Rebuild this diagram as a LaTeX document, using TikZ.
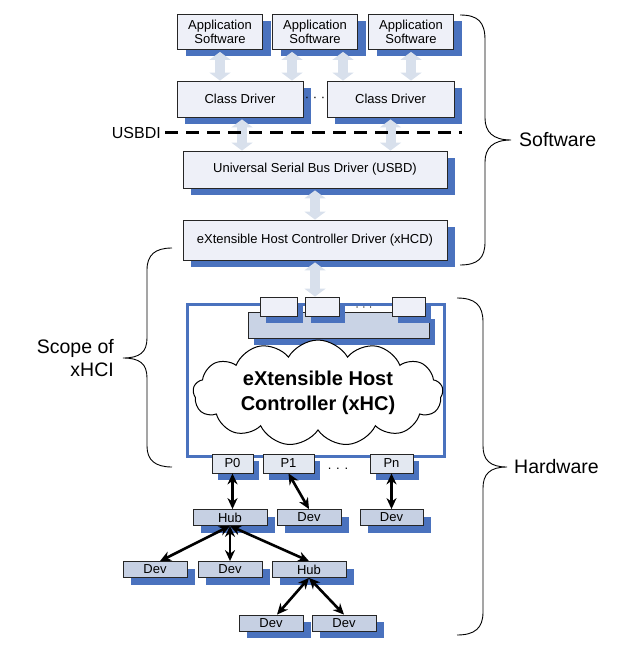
\documentclass[tikz,border=0pt]{standalone}
\usepackage{fontspec}
\setmainfont{Liberation Sans}
\usetikzlibrary{arrows.meta,shadows,shapes.symbols}
\definecolor{shblue}{HTML}{4A72BE}
\definecolor{lightfill}{HTML}{EEF0F8}
\definecolor{devfill}{HTML}{C6D0E3}
\definecolor{portfill}{HTML}{E3E8F1}
\definecolor{barfill}{HTML}{C9D3E5}
\definecolor{arrfill}{HTML}{D8E0EC}
\tikzset{
  boxbase/.style={draw=black!85, line width=0.8pt, inner sep=0pt, align=center,
    font=\fontsize{13}{14.5}\selectfont},
  bigshadow/.style={general shadow={fill=shblue, shadow xshift=8pt, shadow yshift=-7pt}},
  smallshadow/.style={general shadow={fill=shblue, shadow xshift=6pt, shadow yshift=-7pt}},
  swbox/.style={boxbase, fill=lightfill, bigshadow},
  hwbox/.style={boxbase, fill=devfill, bigshadow, minimum height=16pt},
  portbox/.style={boxbase, fill=portfill, smallshadow, minimum height=19pt},
  topbox/.style={boxbase, fill=lightfill, smallshadow, minimum height=19pt},
  blockarr/.style={draw=arrfill, line width=10pt,
    {Triangle[width=21pt,length=8pt]}-{Triangle[width=21pt,length=8pt]}},
  link/.style={draw=black, line width=2.6pt,
    {Stealth[length=11pt,width=10pt]}-{Stealth[length=11pt,width=10pt]}},
  bracepath/.style={draw=black, line width=0.9pt},
  sidelabel/.style={font=\fontsize{19.5}{23}\selectfont, inner sep=0pt},
  dotlabel/.style={font=\fontsize{13}{14}\selectfont, inner sep=0pt}
}
\begin{document}
\begin{tikzpicture}[x=1pt,y=-1pt]
\useasboundingbox (0,0) rectangle (635,652);

% ---------- software stack ----------
\node[swbox, minimum width=85pt, minimum height=35pt] (app1) at (220,32) {Application\\Software};
\node[swbox, minimum width=85pt, minimum height=35pt] (app2) at (315,32) {Application\\Software};
\node[swbox, minimum width=85pt, minimum height=35pt] (app3) at (411,32) {Application\\Software};

\node[swbox, minimum width=126pt, minimum height=36pt] (cd1) at (240,99) {Class Driver};
\node[swbox, minimum width=127pt, minimum height=36pt] (cd2) at (390.5,99) {Class Driver};
\node[dotlabel] (dots1) at (315,99) {· · ·};

\node[swbox, minimum width=264pt, minimum height=37pt] (usbd) at (315,169.5) {Universal Serial Bus Driver (USBD)};
\node[swbox, minimum width=264pt, minimum height=40pt] (xhcd) at (315,240) {eXtensible Host Controller Driver (xHCD)};

% ---------- host controller ----------
\node[draw=shblue, line width=3pt, minimum width=257pt, minimum height=152pt, inner sep=0pt] (xhc) at (315.5,380) {};
\node[boxbase, fill=barfill, smallshadow, minimum width=181pt, minimum height=26pt] (bar) at (338.5,325) {};
\node[topbox, minimum width=37pt] (sba) at (278.5,306.5) {};
\node[topbox, minimum width=34pt] (sbb) at (322,306.5) {};
\node[topbox, minimum width=33pt] (sbc) at (408.5,306.5) {};
\node[font=\fontsize{11}{12}\selectfont, inner sep=0pt] (dots2) at (364,309) {· · ·};

\node[cloud, draw=black, line width=1pt, fill=white, cloud puffs=13, cloud puff arc=120,
  aspect=2.8, minimum width=250pt, minimum height=88pt, inner sep=0pt, align=center,
  font=\bfseries\fontsize{20}{25}\selectfont] (cloud) at (318,393) {eXtensible Host\\Controller (xHC)};

\node[portbox, minimum width=41pt] (p0) at (232.5,463.5) {P0};
\node[portbox, minimum width=51pt] (p1) at (288.5,463.5) {P1};
\node[portbox, minimum width=43pt] (pn) at (391.5,463.5) {Pn};
\node[dotlabel] (dots3) at (338,469) {. . .};

% ---------- devices ----------
\node[hwbox, minimum width=74pt] (hub1) at (230,517.5) {Hub};
\node[hwbox, minimum width=64pt] (dev1) at (309,517.5) {Dev};
\node[hwbox, minimum width=63pt] (devn) at (391.5,517.5) {Dev};
\node[hwbox, minimum width=64pt] (dev3a) at (155,569.5) {Dev};
\node[hwbox, minimum width=64pt] (dev3b) at (230,569.5) {Dev};
\node[hwbox, minimum width=74pt] (hub2) at (309,569.5) {Hub};
\node[hwbox, minimum width=64pt] (dev4a) at (271,623) {Dev};
\node[hwbox, minimum width=64pt] (dev4b) at (344,623) {Dev};

% ---------- block arrows ----------
\draw[blockarr] ([yshift=-2pt]app1.south) -- (app1.south |- cd1.north);
\draw[blockarr] ([xshift=-23pt,yshift=-2pt]app2.south) -- ([xshift=-23pt]app2.south |- cd1.north);
\draw[blockarr] ([xshift=28pt,yshift=-2pt]app2.south) -- ([xshift=28pt]app2.south |- cd2.north);
\draw[blockarr] ([yshift=-2pt]app3.south) -- (app3.south |- cd2.north);
\draw[blockarr] ([xshift=2pt,yshift=-2pt]cd1.south) -- ([xshift=2pt]cd1.south |- usbd.north);
\draw[blockarr] ([yshift=-2pt]cd2.south) -- (cd2.south |- usbd.north);
\draw[blockarr] ([yshift=-2pt]usbd.south) -- (xhcd.north);
\draw[blockarr] ([yshift=-2pt]xhcd.south) -- (xhcd.south |- sbb.north);

% ---------- USBDI ----------
\node[font=\fontsize{16}{18}\selectfont, anchor=east, inner sep=0pt] (usbdi) at (161,133) {USBDI};
\coordinate (dashend) at (462,133);
\draw[line width=3pt, dash pattern=on 13pt off 8pt] ([xshift=4pt]usbdi.east) -- (dashend |- usbdi.east);

% ---------- links ----------
\draw[link] (p0.south) -- (p0.south |- hub1.north);
\draw[link] (p1.south) -- (dev1.north);
\draw[link] (pn.south) -- (devn.north);
\draw[link] (hub1.south) -- ([xshift=5pt]dev3a.north);
\draw[link] (hub1.south) -- (hub1.south |- dev3b.north);
\draw[link] (hub1.south) -- (hub2.north);
\draw[link] (hub2.south) -- ([xshift=6pt]dev4a.north);
\draw[link] (hub2.south) -- (dev4b.north);

% ---------- braces ----------
\draw[bracepath] (460,15) .. controls (478,15) and (485,22) .. (485,40) -- (485,118)
  .. controls (485,132) and (493,140) .. (511,140)
  .. controls (493,140) and (485,148) .. (485,162) -- (485,242)
  .. controls (485,258) and (478,265) .. (460,265);
\node[sidelabel, anchor=west] (sw) at (519,140) {Software};

\draw[bracepath] (457,298) .. controls (475,298) and (483,305) .. (483,322) -- (483,446)
  .. controls (483,460) and (490,467) .. (507,467)
  .. controls (490,467) and (483,474) .. (483,488) -- (483,612)
  .. controls (483,628) and (475,635) .. (457,635);
\node[sidelabel, anchor=west] (hw) at (514,467) {Hardware};

\draw[bracepath] (172,248) .. controls (155,248) and (147,255) .. (147,270) -- (147,338)
  .. controls (147,352) and (140,358) .. (123,358)
  .. controls (140,358) and (147,364) .. (147,378) -- (147,446)
  .. controls (147,460) and (155,467) .. (172,467);
\node[sidelabel, anchor=east, align=right, font=\fontsize{19.5}{23}\selectfont] (scope) at (114,358) {Scope of\\xHCI};
\end{tikzpicture}
\end{document}
